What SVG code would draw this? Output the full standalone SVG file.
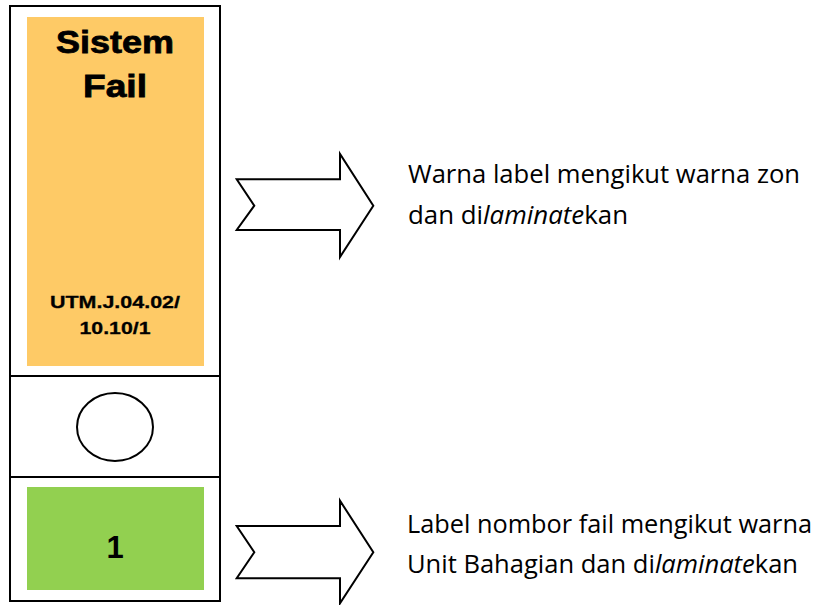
<svg xmlns="http://www.w3.org/2000/svg" width="817" height="605" viewBox="0 0 817 605">
<style>
.box{fill:#fff;stroke:#000;stroke-width:2}
.arrow{fill:#fff;stroke:#000;stroke-width:2;stroke-linejoin:miter}
.lbl{font-family:"Liberation Sans",Arial,sans-serif;font-weight:bold;fill:#000;text-anchor:middle}
.desc{font-family:"Open Sans","Noto Sans",sans-serif;font-size:25px;fill:#000}
</style>
<g id="file-spine">
<rect class="box" x="10" y="6" width="210" height="595"/>
<line x1="10" y1="376" x2="220" y2="376" stroke="#000" stroke-width="2"/>
<line x1="10" y1="477" x2="220" y2="477" stroke="#000" stroke-width="2"/>
</g>
<g id="zone-label">
<rect x="27" y="17" width="177" height="349" fill="#FECA66"/>
<text class="lbl" x="115" y="53" font-size="32" stroke="#000" stroke-width="0.8" textLength="118" lengthAdjust="spacingAndGlyphs">Sistem</text>
<text class="lbl" x="115" y="97" font-size="32" stroke="#000" stroke-width="0.8" textLength="64" lengthAdjust="spacingAndGlyphs">Fail</text>
<text class="lbl" x="115" y="308" font-size="17" stroke="#000" stroke-width="0.3" textLength="130" lengthAdjust="spacingAndGlyphs">UTM.J.04.02/</text>
<text class="lbl" x="115" y="334" font-size="17" stroke="#000" stroke-width="0.3" textLength="71" lengthAdjust="spacingAndGlyphs">10.10/1</text>
</g>
<g id="ring-hole">
<ellipse cx="115" cy="427" rx="38" ry="34" fill="#fff" stroke="#000" stroke-width="2"/>
</g>
<g id="number-label">
<rect x="27" y="487" width="177" height="103" fill="#92D050"/>
<text class="lbl" x="115" y="558" font-size="31">1</text>
</g>
<g id="connectors">
<polygon class="arrow" points="236.7,179.3 340,179.3 340,154 373.3,205.7 340,257 340,230 236.7,230 254.3,205.7"/>
<polygon class="arrow" points="236.7,526 340,526 340,500.7 373.3,552.3 340,603.3 340,578.3 236.7,578.3 254.3,552.3"/>
</g>
<g id="desc-zone">
<text class="desc" x="408" y="183" textLength="392" lengthAdjust="spacingAndGlyphs">Warna label mengikut warna zon</text>
<text class="desc" x="408" y="224" textLength="220" lengthAdjust="spacingAndGlyphs">dan di<tspan font-style="italic">laminate</tspan>kan</text>
</g>
<g id="desc-number">
<text class="desc" x="407" y="533" textLength="405" lengthAdjust="spacingAndGlyphs">Label nombor fail mengikut warna</text>
<text class="desc" x="407" y="573" textLength="391" lengthAdjust="spacingAndGlyphs">Unit Bahagian dan di<tspan font-style="italic">laminate</tspan>kan</text>
</g>
</svg>
